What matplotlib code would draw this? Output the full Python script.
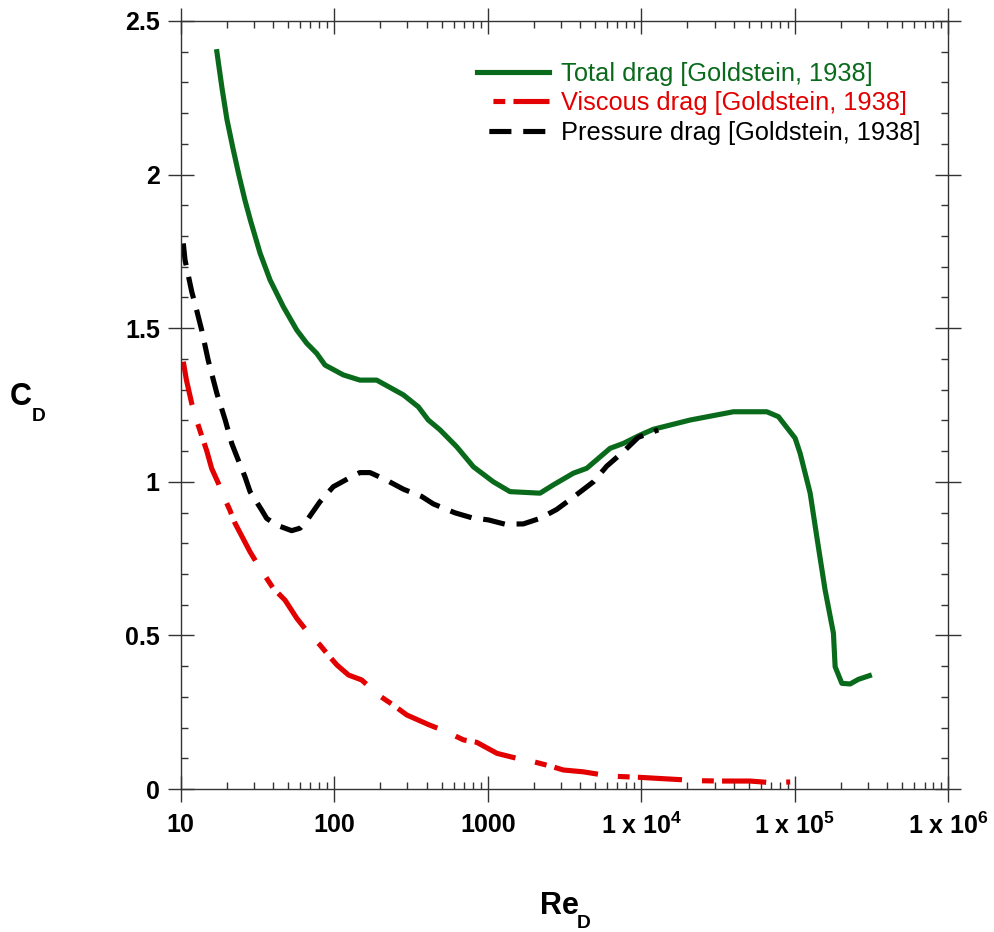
# coding=utf-8
# Drag coefficient of a circular cylinder vs Reynolds number (Goldstein, 1938)

import numpy as np
import matplotlib
matplotlib.use('Agg')
import matplotlib.pyplot as plt
from matplotlib.ticker import LogLocator, MultipleLocator, FixedLocator, FuncFormatter

plt.rcParams['font.family'] = ['Liberation Sans', 'DejaVu Sans']
plt.rcParams['mathtext.fontset'] = 'custom'
plt.rcParams['mathtext.rm'] = 'Liberation Sans'
plt.rcParams['mathtext.bf'] = 'Liberation Sans:bold'
plt.rcParams['mathtext.it'] = 'Liberation Sans:italic'

# total drag
re_total = [17.2, 18.6, 20.0, 21.8, 23.9, 26.2, 28.5, 32.9, 38.2, 46.6, 57.0, 66.2, 76.9, 87.1,
            114.5, 147, 189, 282, 353, 410, 489, 628, 806, 1087, 1396, 2192, 2675, 3611, 4416,
            6266, 7645, 9816, 11990, 20770, 39810, 65740, 78200, 100500, 108300, 125900,
            139100, 157500, 178500, 183100, 202500, 229300, 259500, 306000]
cd_total = [2.40, 2.28, 2.18, 2.09, 2.00, 1.917, 1.85, 1.744, 1.657, 1.570, 1.494, 1.451,
            1.418, 1.380, 1.348, 1.331, 1.331, 1.283, 1.244, 1.201, 1.169, 1.114, 1.049, 1.000,
            0.968, 0.963, 0.990, 1.028, 1.044, 1.109, 1.125, 1.152, 1.171, 1.201, 1.228, 1.228,
            1.212, 1.142, 1.093, 0.963, 0.821, 0.648, 0.507, 0.398, 0.344, 0.342, 0.357, 0.369]

# viscous drag
re_visc = [10.4, 10.9, 11.8, 12.6, 13.7, 14.8, 15.9, 17.6, 19.5, 20.9, 22.6, 28.3, 32.9, 36.3,
           40.1, 47.8, 57.0, 69.6, 80.7, 91.5, 104, 124, 151, 194, 243, 297, 410, 541, 694, 848,
           1150, 1545, 1983, 2545, 3107, 4194, 6266, 9816, 14660, 24150, 32600, 51100, 69000,
           93300]
cd_visc = [1.391, 1.331, 1.255, 1.205, 1.150, 1.100, 1.044, 0.995, 0.941, 0.908, 0.865, 0.772,
           0.718, 0.686, 0.653, 0.615, 0.556, 0.501, 0.469, 0.436, 0.404, 0.371, 0.355, 0.306,
           0.273, 0.241, 0.210, 0.186, 0.160, 0.152, 0.116, 0.100, 0.089, 0.075, 0.062, 0.056,
           0.042, 0.038, 0.033, 0.027, 0.026, 0.026, 0.021, 0.023]

# pressure drag
re_press = [10.4, 10.67, 11.8, 12.7, 13.7, 15.1, 17.2, 19.5, 21.5, 23.7, 26.2, 28.3, 33.7, 36.3,
            42.2, 52.8, 59.9, 67.8, 80.7, 98.6, 130, 147, 171, 214, 282, 372, 442, 612, 787,
            1009, 1297, 1706, 2192, 2813, 3611, 4877, 5959, 7645, 9570, 12900]
cd_press = [1.776, 1.722, 1.619, 1.559, 1.494, 1.396, 1.288, 1.201, 1.125, 1.071, 1.017, 0.968,
            0.908, 0.881, 0.859, 0.841, 0.849, 0.881, 0.935, 0.984, 1.017, 1.030, 1.030, 1.008,
            0.976, 0.952, 0.928, 0.899, 0.883, 0.876, 0.862, 0.863, 0.881, 0.910, 0.950, 1.000,
            1.051, 1.098, 1.145, 1.169]

labels = ['Total drag [Goldstein, 1938]',
          'Viscous drag [Goldstein, 1938]',
          'Pressure drag [Goldstein, 1938]']
colors = ['#0a6a1c', '#e30000', '#000000']

fig = plt.figure(figsize=(9.95, 9.32), dpi=100)
ax = fig.add_axes([0.1816, 0.1534, 0.7715, 0.8241])

lw = 3.7
visc_dash = (8.6, 3.9, 2.3, 1.6)
press_dash = (4.3, 2.3)
ax.plot(re_total, cd_total, color=colors[0], lw=lw, label=labels[0])
ax.plot(re_visc, cd_visc, color=colors[1], lw=lw, linestyle=(0, visc_dash), label=labels[1])
ax.plot(re_press, cd_press, color=colors[2], lw=lw, linestyle=(0, press_dash), label=labels[2])

ax.set_xscale('log')
ax.set_xlim(10, 1e6)
ax.set_ylim(0, 2.5)

ax.xaxis.set_major_locator(FixedLocator([10, 100, 1000, 1e4, 1e5, 1e6]))
ax.xaxis.set_minor_locator(LogLocator(base=10, subs=np.arange(2, 10)))


def xfmt(v, pos):
    e = int(round(np.log10(v)))
    if e <= 3:
        return '%d' % int(round(v))
    return r'$\mathbf{1\ x\ 10}^{\mathbf{%d}}$' % e


ax.xaxis.set_major_formatter(FuncFormatter(xfmt))
ax.xaxis.set_minor_formatter(FuncFormatter(lambda v, p: ''))
ax.yaxis.set_major_locator(MultipleLocator(0.5))
ax.yaxis.set_minor_locator(MultipleLocator(0.1))
ax.yaxis.set_major_formatter(FuncFormatter(lambda v, p: '%g' % v))

ax.tick_params(which='major', direction='inout', length=19, width=1, color='#333333',
               top=True, right=True, labelsize=18, pad=5.5)
ax.tick_params(which='minor', direction='in', length=5, width=1, color='#333333',
               top=True, right=True)
ax.tick_params(axis='x', which='major', pad=7.5)
for lab in ax.get_xticklabels() + ax.get_yticklabels():
    lab.set_fontweight('bold')

for sp in ax.spines.values():
    sp.set_linewidth(1)
    sp.set_color('#333333')

# axis titles with a low-set subscript
fig.text(0.0100, 0.5655, 'C', fontsize=22, fontweight='bold', ha='left', va='baseline')
fig.text(0.0319, 0.5486, 'D', fontsize=13.8, fontweight='bold', ha='left', va='baseline')
fig.text(0.5427, 0.0193, 'Re', fontsize=22, fontweight='bold', ha='left', va='baseline')
fig.text(0.5796, 0.0043, 'D', fontsize=13.8, fontweight='bold', ha='left', va='baseline')

leg = ax.legend(loc='upper right', bbox_to_anchor=(0.9632, 0.947), frameon=False,
                fontsize=18.3, handlelength=2.85, handletextpad=0.45, labelspacing=0.22,
                borderpad=0, borderaxespad=0, labelcolor='linecolor')
# legend samples start inside a gap, as in the original
handles = leg.get_lines()
handles[1].set_linestyle((9.4, visc_dash))
handles[2].set_linestyle((4.3, press_dash))

fig.savefig('out.png', dpi=100)
